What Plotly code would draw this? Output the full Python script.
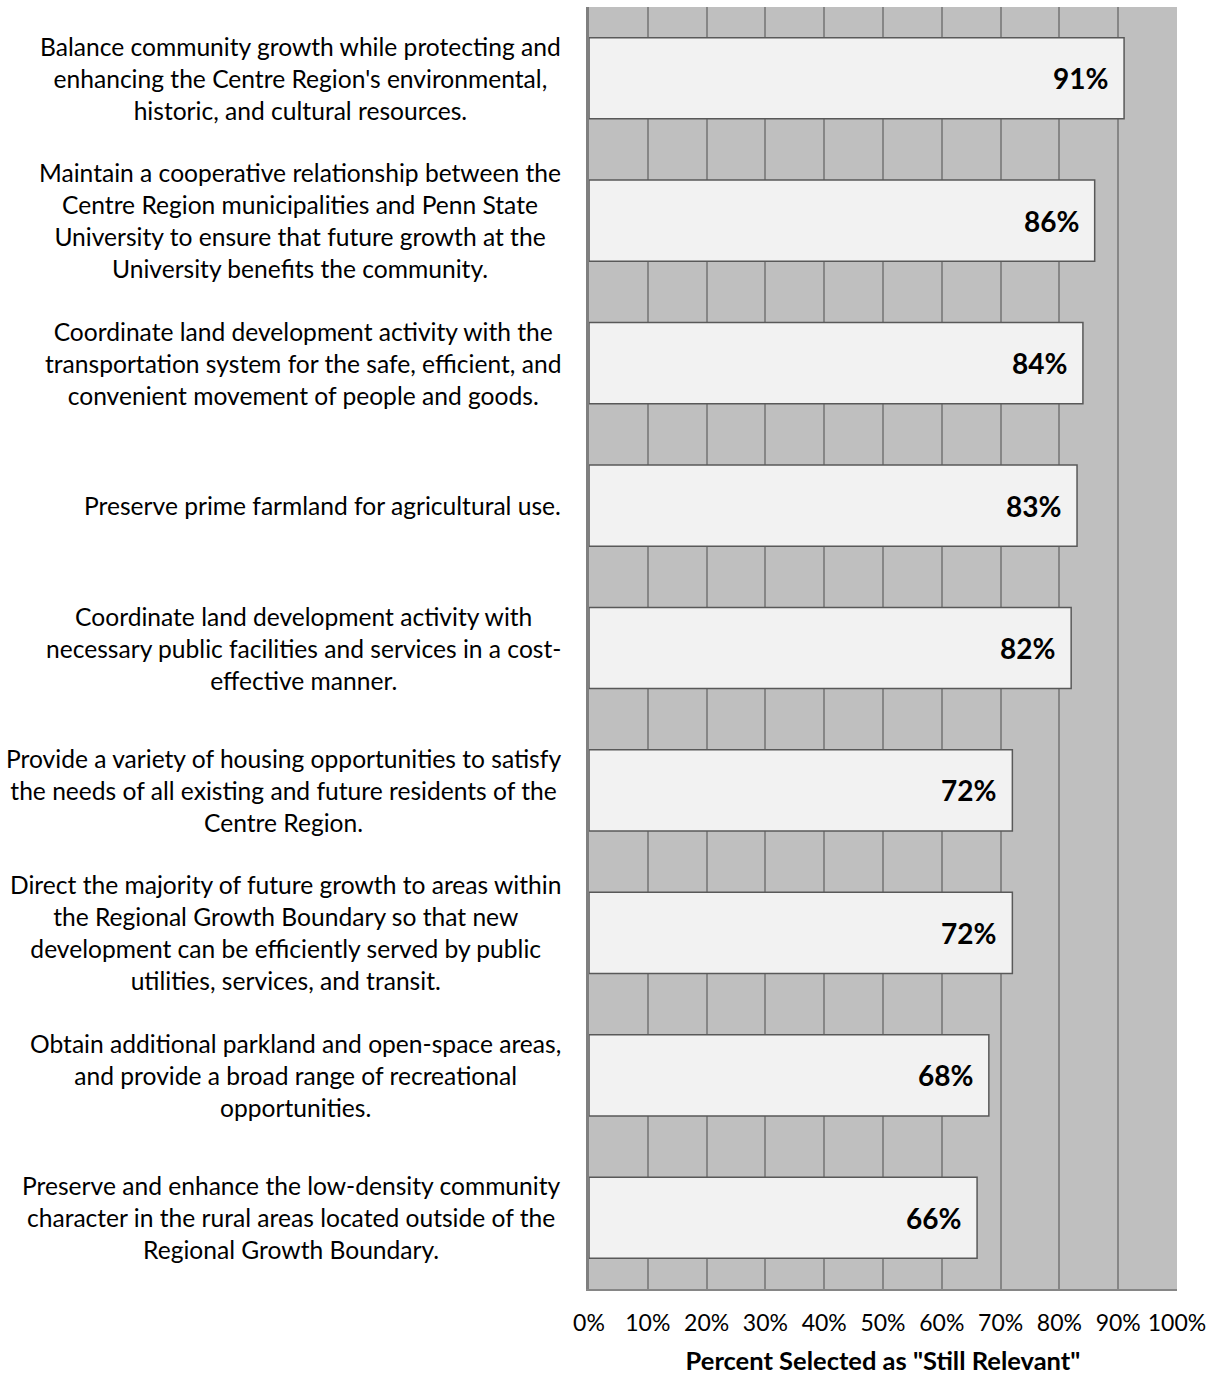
import plotly.graph_objects as go

# Goals, top to bottom, with their line breaks
goals = [
    "Balance community growth while protecting and<br>enhancing the Centre Region's environmental,<br>historic, and cultural resources.",
    "Maintain a cooperative relationship between the<br>Centre Region municipalities and Penn State<br>University to ensure that future growth at the<br>University benefits the community.",
    "Coordinate land development activity with the<br>transportation system for the safe, efficient, and<br>convenient movement of people and goods.",
    "Preserve prime farmland for agricultural use.",
    "Coordinate land development activity with<br>necessary public facilities and services in a cost-<br>effective manner.",
    "Provide a variety of housing opportunities to satisfy<br>the needs of all existing and future residents of the<br>Centre Region.",
    "Direct the majority of future growth to areas within<br>the Regional Growth Boundary so that new<br>development can be efficiently served by public<br>utilities, services, and transit.",
    "Obtain additional parkland and open-space areas,<br>and provide a broad range of recreational<br>opportunities.",
    "Preserve and enhance the low-density community<br>character in the rural areas located outside of the<br>Regional Growth Boundary.",
]
still_relevant = [91, 86, 84, 83, 82, 72, 72, 68, 66]
tick_values = [0, 10, 20, 30, 40, 50, 60, 70, 80, 90, 100]
tick_labels = [f"{v}%" for v in tick_values]
axis_title = 'Percent Selected as "Still Relevant"'

FONT = "Lato, Carlito, Calibri, sans-serif"

fig = go.Figure(
    go.Bar(
        x=still_relevant,
        y=goals,
        orientation="h",
        marker=dict(color="#F2F2F2", line=dict(color="#595959", width=1.5)),
        hoverinfo="skip",
    )
)

# Goal text to the left of the plot, centered lines in a right-aligned block
for g in goals:
    fig.add_annotation(
        x=0, xref="paper", y=g, yref="y",
        text=g, showarrow=False,
        xanchor="right", yanchor="middle", align="center",
        xshift=-26,
        font=dict(family=FONT, size=24.6, color="#000000"),
    )

# Value labels inside the end of each bar
for g, v in zip(goals, still_relevant):
    fig.add_annotation(
        x=v, xref="x", y=g, yref="y",
        text=f"<b>{v}%</b>", showarrow=False,
        xanchor="right", yanchor="middle",
        xshift=-14,
        font=dict(family=FONT, size=28, color="#000000"),
    )

fig.update_layout(
    width=1215,
    height=1384,
    margin=dict(l=589, r=38, t=7, b=95),
    paper_bgcolor="#FFFFFF",
    plot_bgcolor="#BFBFBF",
    bargap=0.43,
    showlegend=False,
    font=dict(family=FONT, size=24, color="#000000"),
)

fig.update_xaxes(
    range=[0, 100],
    tickvals=tick_values,
    ticktext=tick_labels,
    tickfont=dict(family=FONT, size=23, color="#000000"),
    ticklabelstandoff=12,
    showgrid=True,
    gridcolor="#868686",
    gridwidth=1.5,
    zeroline=False,
    showline=True,
    linecolor="#868686",
    linewidth=2,
    title=dict(text=f"<b>{axis_title}</b>", font=dict(family=FONT, size=25.5, color="#000000"), standoff=18),
    fixedrange=True,
)

fig.update_yaxes(
    categoryorder="array",
    categoryarray=goals,
    autorange="reversed",
    showticklabels=False,
    showgrid=False,
    zeroline=False,
    showline=True,
    linecolor="#7F7F7F",
    linewidth=2.5,
    fixedrange=True,
)

fig.write_html("out.html")
